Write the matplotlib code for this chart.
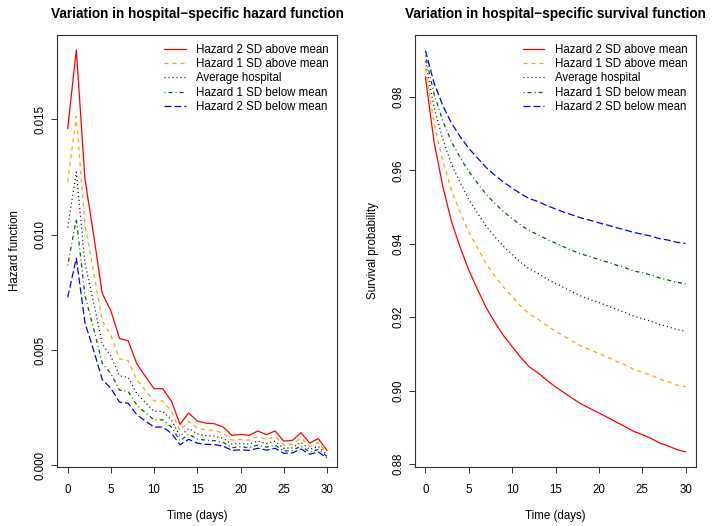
import numpy as np
import matplotlib
matplotlib.use("Agg")
import matplotlib.pyplot as plt
from matplotlib.ticker import FormatStrFormatter

plt.rcParams['font.family'] = ['Liberation Sans', 'DejaVu Sans']
plt.rcParams['lines.scale_dashes'] = False

# days since admission
days = list(range(31))

# hazard function (x 1e-3)
haz_2sd_above = [14.6, 18.0, 12.4, 10.0, 7.45, 6.7, 5.5, 5.4, 4.4, 3.85, 3.32, 3.32, 2.79, 1.78, 2.27, 1.92,
                 1.83, 1.80, 1.66, 1.30, 1.34, 1.30, 1.49, 1.33, 1.49, 1.05, 1.08, 1.42, 0.97, 1.16, 0.65]
haz_1sd_above = [12.27, 15.13, 10.42, 8.40, 6.26, 5.63, 4.62, 4.54, 3.70, 3.24, 2.79, 2.79, 2.34, 1.50, 1.91, 1.61,
                 1.54, 1.51, 1.39, 1.09, 1.13, 1.09, 1.25, 1.12, 1.25, 0.88, 0.91, 1.19, 0.82, 0.97, 0.55]
haz_average = [10.31, 12.71, 8.76, 7.06, 5.26, 4.73, 3.88, 3.81, 3.11, 2.72, 2.34, 2.34, 1.97, 1.26, 1.60, 1.36,
               1.29, 1.27, 1.17, 0.92, 0.95, 0.92, 1.05, 0.94, 1.05, 0.74, 0.76, 1.00, 0.69, 0.82, 0.46]
haz_1sd_below = [8.66, 10.68, 7.36, 5.93, 4.42, 3.98, 3.26, 3.20, 2.61, 2.28, 1.97, 1.97, 1.66, 1.06, 1.35, 1.14,
                 1.09, 1.07, 0.99, 0.77, 0.80, 0.77, 0.88, 0.79, 0.88, 0.62, 0.64, 0.84, 0.58, 0.69, 0.39]
haz_2sd_below = [7.28, 8.98, 6.18, 4.99, 3.72, 3.34, 2.74, 2.69, 2.19, 1.92, 1.66, 1.66, 1.39, 0.89, 1.13, 0.96,
                 0.91, 0.90, 0.83, 0.65, 0.67, 0.65, 0.74, 0.66, 0.74, 0.52, 0.54, 0.71, 0.48, 0.58, 0.32]

# survival probability
surv_2sd_above = [0.9854, 0.9677, 0.9557, 0.9461, 0.9391, 0.9328, 0.9276, 0.9226, 0.9186, 0.9150, 0.9120,
                  0.9090, 0.9064, 0.9048, 0.9028, 0.9010, 0.8994, 0.8978, 0.8963, 0.8951, 0.8939, 0.8927,
                  0.8914, 0.8902, 0.8889, 0.8880, 0.8870, 0.8857, 0.8849, 0.8839, 0.8833]
surv_1sd_above = [0.9877, 0.9728, 0.9627, 0.9546, 0.9486, 0.9432, 0.9389, 0.9346, 0.9312, 0.9282, 0.9256,
                  0.9230, 0.9208, 0.9194, 0.9177, 0.9162, 0.9148, 0.9134, 0.9121, 0.9111, 0.9101, 0.9091,
                  0.9080, 0.9070, 0.9058, 0.9050, 0.9042, 0.9031, 0.9024, 0.9015, 0.9010]
surv_average = [0.9897, 0.9771, 0.9686, 0.9617, 0.9567, 0.9521, 0.9484, 0.9448, 0.9419, 0.9393, 0.9371,
                0.9349, 0.9331, 0.9319, 0.9304, 0.9292, 0.9280, 0.9268, 0.9257, 0.9248, 0.9240, 0.9231,
                0.9222, 0.9213, 0.9203, 0.9196, 0.9189, 0.9180, 0.9174, 0.9166, 0.9162]
surv_1sd_below = [0.9913, 0.9808, 0.9735, 0.9678, 0.9635, 0.9597, 0.9565, 0.9535, 0.9510, 0.9488, 0.9469,
                  0.9451, 0.9435, 0.9425, 0.9412, 0.9402, 0.9391, 0.9381, 0.9372, 0.9365, 0.9357, 0.9350,
                  0.9342, 0.9335, 0.9326, 0.9321, 0.9315, 0.9307, 0.9301, 0.9295, 0.9291]
surv_2sd_below = [0.9927, 0.9838, 0.9777, 0.9729, 0.9692, 0.9660, 0.9634, 0.9608, 0.9587, 0.9568, 0.9552,
                  0.9536, 0.9523, 0.9515, 0.9504, 0.9495, 0.9486, 0.9478, 0.9470, 0.9464, 0.9457, 0.9451,
                  0.9444, 0.9438, 0.9431, 0.9426, 0.9421, 0.9414, 0.9410, 0.9404, 0.9401]

labels = ["Hazard 2 SD above mean", "Hazard 1 SD above mean", "Average hospital",
          "Hazard 1 SD below mean", "Hazard 2 SD below mean"]

# R-like line types: solid, dashed, dotted, dotdash, longdash
styles = [
    dict(color="red", linestyle="-"),
    dict(color="orange", linestyle=(0, (2.9, 2.9))),
    dict(color="black", linestyle=(0, (0.72, 2.16))),
    dict(color="darkgreen", linestyle=(0, (0.72, 2.16, 2.9, 2.16))),
    dict(color="blue", linestyle=(0, (5.0, 2.16))),
]

hazards = [np.array(h) / 1000 for h in
           [haz_2sd_above, haz_1sd_above, haz_average, haz_1sd_below, haz_2sd_below]]
survivals = [surv_2sd_above, surv_1sd_above, surv_average, surv_1sd_below, surv_2sd_below]

W, H = 713, 526
fig = plt.figure(figsize=(W / 100, H / 100), dpi=100)
box_bottom, box_top = 466.5, 35
ax1 = fig.add_axes([57.3 / W, 1 - box_bottom / H, 280 / W, (box_bottom - box_top) / H])
ax2 = fig.add_axes([415 / W, 1 - box_bottom / H, 281 / W, (box_bottom - box_top) / H])

fs = 8.3


def style_axes(ax):
    for sp in ax.spines.values():
        sp.set_linewidth(0.8)
        sp.set_color("#333333")
    ax.tick_params(direction="out", length=4.5, width=0.7, labelsize=fs, pad=3, color="#333333")
    ax.tick_params(axis="x", pad=8)
    ax.set_xticks(range(0, 31, 5))
    ax.set_xlim(-1.2, 31.2)
    for lab in ax.get_yticklabels():
        lab.set_rotation(90)
        lab.set_va("center")


# left: hazard
for h, st, lab in zip(hazards, styles, labels):
    ax1.plot(days, h, lw=0.9, label=lab, **st)
ax1.set_ylim(-0.00005, 0.01865)
ax1.set_yticks([0.000, 0.005, 0.010, 0.015])
ax1.yaxis.set_major_formatter(FormatStrFormatter("%.3f"))
style_axes(ax1)
ax1.set_title("Variation in hospital\u2212specific hazard function", fontsize=9.8, fontweight="bold", pad=12)
ax1.set_xlabel("Time (days)", fontsize=fs, labelpad=10)
ax1.set_ylabel("Hazard function", fontsize=fs, labelpad=10)

# right: survival
for s, st, lab in zip(survivals, styles, labels):
    ax2.plot(days, s, lw=0.9, label=lab, **st)
ax2.set_ylim(0.8793, 0.9969)
ax2.set_yticks([0.88, 0.90, 0.92, 0.94, 0.96, 0.98])
ax2.yaxis.set_major_formatter(FormatStrFormatter("%.2f"))
style_axes(ax2)
ax2.set_title("Variation in hospital\u2212specific survival function", fontsize=9.8, fontweight="bold", pad=12)
ax2.set_xlabel("Time (days)", fontsize=fs, labelpad=10)
ax2.set_ylabel("Survival probability", fontsize=fs, labelpad=10)

for ax in (ax1, ax2):
    ax.legend(loc="upper right", frameon=False, fontsize=fs, handlelength=1.85,
              handletextpad=0.9, labelspacing=0.2, borderaxespad=0.55, borderpad=0.2)

fig.savefig("out.png", dpi=100)
